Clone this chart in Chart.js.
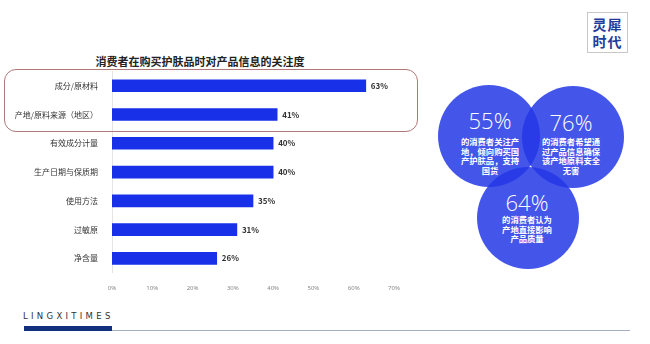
<!DOCTYPE html>
<html>
<head>
<meta charset="utf-8">
<script src="https://cdn.jsdelivr.net/npm/chart.js@4/dist/chart.umd.min.js"></script>
<style>
  html, body { margin:0; padding:0; background:#fff; width:650px; height:344px; overflow:hidden; }
  body { position:relative; font-family:"Noto Sans CJK SC","Noto Sans",sans-serif; }
  #title { position:absolute; left:0; width:400px; top:53px; text-align:center; font-size:11px; font-weight:bold; color:#222; line-height:16px; }
  #wrap { position:absolute; left:0; top:60px; width:420px; height:230px; }
  #hl { position:absolute; left:4px; top:69px; width:412px; height:61px; border:1px solid #b07878; border-radius:12px; box-sizing:content-box; }
  .c { position:absolute; width:102px; height:102px; border-radius:50%; background:rgba(35,55,230,0.85); }
  .t { position:absolute; color:#fff; text-align:center; }
  .big { font-family:"Open Sans","Noto Sans",sans-serif; font-weight:300; font-size:22px; line-height:26px; }
  .small { font-size:8.3px; font-weight:bold; line-height:9.6px; }
  #logo { position:absolute; left:587px; top:12px; width:41px; height:41px; border:1px solid #c8c8c8; color:#1f3c9c; font-weight:bold; font-size:14px; line-height:17px; text-align:center; padding-top:3px; box-sizing:border-box; letter-spacing:1px; }
  #brand { position:absolute; left:23px; top:311px; font-family:"DejaVu Sans",sans-serif; font-size:8.5px; letter-spacing:3.3px; color:#333; }
  #bar1 { position:absolute; left:24px; top:326px; width:88px; height:5px; background:#12307e; }
  #bar2 { position:absolute; left:112px; top:329.5px; width:518px; height:1.5px; background:#a3aebf; }
</style>
</head>
<body>
<div id="title">消费者在购买护肤品时对产品信息的关注度</div>
<div id="wrap"><canvas id="chart" width="420" height="230"></canvas></div>
<div id="hl"></div>

<div class="c" style="left:438px;top:85px;"></div>
<div class="c" style="left:522px;top:86px;"></div>
<div class="c" style="left:477px;top:167px;"></div>

<div class="t big" style="left:440px;top:107px;width:100px;">55%</div>
<div class="t small" style="left:446px;top:137px;width:88px;">的消费者关注产<br>地，倾向购买国<br>产护肤品，支持<br>国货</div>
<div class="t big" style="left:521px;top:109px;width:100px;">76%</div>
<div class="t small" style="left:527px;top:137px;width:88px;">的消费者希望通<br>过产品信息确保<br>该产地原料安全<br>无害</div>
<div class="t big" style="left:477px;top:189px;width:100px;">64%</div>
<div class="t small" style="left:483px;top:215px;width:88px;">的消费者认为<br>产地直接影响<br>产品质量</div>

<div id="logo">灵犀<br>时代</div>
<div id="brand">LINGXITIMES</div>
<div id="bar1"></div>
<div id="bar2"></div>

<script>
const categories = ["成分/原材料", "产地/原料来源（地区）", "有效成分计量", "生产日期与保质期", "使用方法", "过敏原", "净含量"];
const values = [63, 41, 40, 40, 35, 31, 26];
const tickMax = 70;
const tickStep = 10;

const valueLabels = {
  id: 'valueLabels',
  afterDatasetsDraw(chart) {
    const ctx = chart.ctx;
    const meta = chart.getDatasetMeta(0);
    ctx.save();
    ctx.font = 'bold 8px "Noto Sans CJK SC", sans-serif';
    ctx.fillStyle = '#333';
    ctx.textAlign = 'left';
    ctx.textBaseline = 'middle';
    meta.data.forEach((el, i) => {
      ctx.fillText(values[i] + '%', el.x + 5, el.y);
    });
    ctx.restore();
  }
};

new Chart(document.getElementById('chart'), {
  type: 'bar',
  data: {
    labels: categories,
    datasets: [{
      data: values,
      backgroundColor: '#1730e8',
      barThickness: 12
    }]
  },
  options: {
    indexAxis: 'y',
    responsive: false,
    animation: false,
    layout: { padding: { top: 11.4, right: 26, left: 0, bottom: 0 } },
    plugins: { legend: { display: false }, tooltip: { enabled: false }, title: { display: false } },
    scales: {
      x: {
        min: 0, max: tickMax,
        ticks: { stepSize: tickStep, callback: v => v + '%', font: { size: 6, family: '"Noto Sans", sans-serif' }, color: '#888', padding: 4, maxRotation: 0 },
        grid: { display: false },
        border: { display: false },
        afterFit(s) { s.height = 17.3; }
      },
      y: {
        ticks: { font: { size: 8, family: '"Noto Sans CJK SC", sans-serif' }, color: '#333', padding: 6 },
        grid: { display: false },
        border: { display: true, color: '#e4e4e4', width: 1 },
        afterFit(s) { s.width = 112; }
      }
    }
  },
  plugins: [valueLabels]
});
</script>
</body>
</html>
